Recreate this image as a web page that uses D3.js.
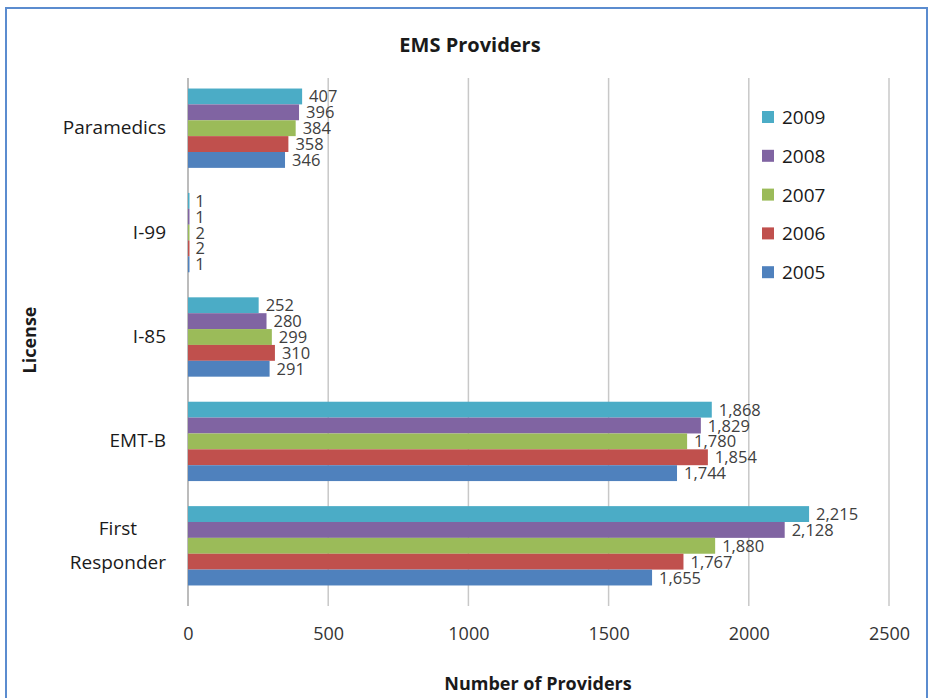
<!DOCTYPE html>
<html><head><meta charset="utf-8">
<script src="https://cdn.jsdelivr.net/npm/d3@7"></script>
<style>body{margin:0;background:#fff;} text{font-family:"Open Sans",sans-serif;}</style>
</head><body>
<svg id="c" width="932" height="698"></svg>
<script>
const categories = ["Paramedics","I-99","I-85","EMT-B","First Responder"];
const years = ["2009","2008","2007","2006","2005"];
const colors = ["#4BACC6","#8064A2","#9BBB59","#C0504D","#4F81BD"];
const v2009 = [407,1,252,1868,2215];
const v2008 = [396,1,280,1829,2128];
const v2007 = [384,2,299,1780,1880];
const v2006 = [358,2,310,1854,1767];
const v2005 = [346,1,291,1744,1655];
const seriesValues = [v2009,v2008,v2007,v2006,v2005];
const xTicks = [0,500,1000,1500,2000,2500];

const svg = d3.select("#c");
svg.append("rect").attr("x",6).attr("y",8).attr("width",921).attr("height",700)
  .attr("fill","#fff").attr("stroke","#5b8ccf").attr("stroke-width",2);

const L=188, R=889, T=76, B=598;
const x = d3.scaleLinear().domain([0,2500]).range([L,R]);
const y = d3.scaleBand().domain(categories).range([T,B]).paddingInner(0.24).paddingOuter(0.12);
const yi = d3.scaleBand().domain(years).range([0,y.bandwidth()]).padding(0);

// gridlines
svg.append("g").selectAll("line").data(xTicks).join("line")
  .attr("x1",d=>x(d)).attr("x2",d=>x(d)).attr("y1",78).attr("y2",606)
  .attr("stroke",d=>d===0?"#a6a6a6":"#c8c8c8").attr("stroke-width",1.5);

// tick labels via axis
const ax = svg.append("g").attr("transform",`translate(0,${B})`)
  .call(d3.axisBottom(x).tickValues(xTicks).tickFormat(d3.format("d")).tickSize(0).tickPadding(29));
ax.select(".domain").remove();
ax.selectAll("text").attr("font-size",18).attr("fill","#333").attr("font-family","Open Sans");

// bars
const rows = [];
categories.forEach((c,i)=>years.forEach((yr,j)=>rows.push({c,yr,j,v:seriesValues[j][i]})));
svg.append("g").selectAll("rect").data(rows).join("rect")
  .attr("x",x(0)).attr("y",d=>y(d.c)+yi(d.yr))
  .attr("width",d=>Math.max(1.5,x(d.v)-x(0))).attr("height",yi.bandwidth())
  .attr("fill",d=>colors[d.j]);

const fmt = d3.format(",");
svg.append("g").selectAll("text").data(rows).join("text")
  .attr("x",d=>x(d.v)+7).attr("y",d=>y(d.c)+yi(d.yr)+yi.bandwidth()/2+6)
  .attr("font-size",16.5).attr("fill","#404040").text(d=>fmt(d.v));

// category labels
const cl = svg.append("g");
categories.forEach(c=>{
  const cy = y(c)+y.bandwidth()/2;
  if (c==="First Responder") {
    const t2 = cl.append("text").attr("x",166).attr("y",cy+23).attr("text-anchor","end")
      .attr("font-size",19).attr("fill","#1a1a1a").text("Responder");
    const w = t2.node().getComputedTextLength();
    cl.append("text").attr("x",166-w/2).attr("y",cy-11).attr("text-anchor","middle")
      .attr("font-size",19).attr("fill","#1a1a1a").text("First");
  } else {
    cl.append("text").attr("x",166).attr("y",cy+6).attr("text-anchor","end")
      .attr("font-size",19).attr("fill","#1a1a1a").text(c);
  }
});

// titles
svg.append("text").attr("x",470).attr("y",52).attr("text-anchor","middle")
  .attr("font-size",20).attr("font-weight","bold").attr("fill","#1a1a1a").text("EMS Providers");
svg.append("text").attr("x",538).attr("y",690).attr("text-anchor","middle")
  .attr("font-size",18).attr("font-weight","bold").attr("fill","#1a1a1a").text("Number of Providers");
svg.append("text").attr("transform","translate(36,340) rotate(-90)").attr("text-anchor","middle")
  .attr("font-size",18).attr("font-weight","bold").attr("fill","#1a1a1a").text("License");

// legend
const lg = svg.append("g");
years.forEach((yr,j)=>{
  const ly = 117 + j*38.8;
  lg.append("rect").attr("x",762).attr("y",ly-6).attr("width",12).attr("height",12).attr("fill",colors[j]);
  lg.append("text").attr("x",782).attr("y",ly+7).attr("font-size",19).attr("fill","#1a1a1a").text(yr);
});
</script>
</body></html>
